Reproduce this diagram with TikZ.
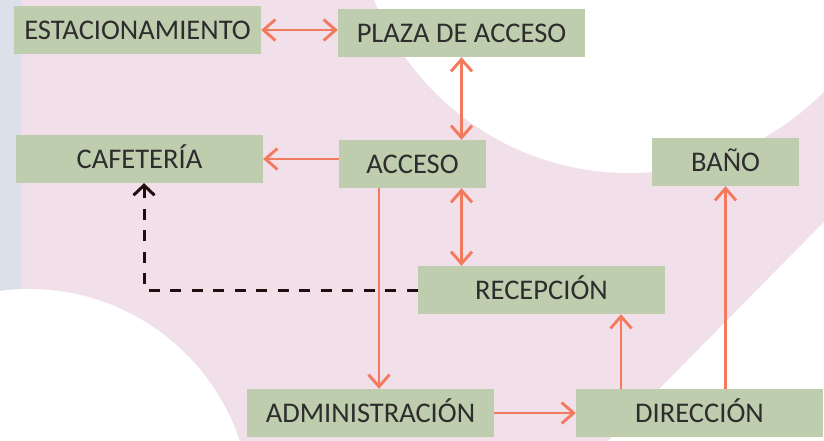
\documentclass[tikz,border=0pt]{standalone}
\usepackage{fontspec}
\setmainfont{Carlito}
\usetikzlibrary{arrows.meta}
\definecolor{bgpink}{RGB}{241,224,234}
\definecolor{bgblue}{RGB}{220,224,234}
\definecolor{boxgreen}{RGB}{190,205,174}
\definecolor{txtdark}{RGB}{45,45,45}
\definecolor{salmon}{RGB}{244,122,94}
\definecolor{dashdark}{RGB}{30,14,14}
\tikzset{
  box/.style={fill=boxgreen, draw=none, inner sep=0pt, minimum height=48pt,
    text height=18.4pt, text depth=0pt, text=txtdark,
    font=\fontsize{28.5pt}{30pt}\selectfont},
  widebox/.style={box, minimum width=247pt},
  smallbox/.style={box, minimum width=147pt},
  conn/.style={draw=salmon, line width=2.9pt, -{Straight Barb[length=12pt,width=21pt,line width=2.9pt]}},
  bconn/.style={draw=salmon, line width=2.9pt, {Straight Barb[length=12pt,width=21pt,line width=2.9pt]}-{Straight Barb[length=12pt,width=21pt,line width=2.9pt]}},
  dconn/.style={draw=dashdark, line width=3pt, dash pattern=on 11pt off 10.5pt, -{Straight Barb[length=10pt,width=21pt,line width=3pt]}}
}
\begin{document}
\begin{tikzpicture}[x=1pt,y=-1pt]
\useasboundingbox (0,0) rectangle (824,441);
% background
\fill[bgpink] (0,0) rectangle (824,441);
\fill[bgblue] (0,0) rectangle (22,300);
\begin{scope}
\clip (0,0) rectangle (824,441);
\fill[white] (629,-101) circle[radius=274];
\fill[white] (29,511) circle[radius=222];
\fill[white] (824,222) -- (824,441) -- (608,441) -- cycle;
\end{scope}
% nodes
\node[widebox] (est) at (137.5,30) {ESTACIONAMIENTO};
\node[widebox] (plaza) at (461.5,33) {PLAZA DE ACCESO};
\node[widebox] (caf) at (139.5,159) {CAFETERÍA};
\node[smallbox] (acc) at (412.5,164) {ACCESO};
\node[smallbox] (bano) at (725.5,162) {BAÑO};
\node[widebox] (rec) at (541.5,290) {RECEPCIÓN};
\node[widebox] (adm) at (370.5,413) {ADMINISTRACIÓN};
\node[widebox] (dir) at (699.5,413) {DIRECCIÓN};
% connectors
\draw[bconn] (est.east) -- (est.east -| plaza.west);
\draw[bconn] (plaza.south) -- (plaza.south |- acc.north);
\draw[conn] (acc.west |- caf.east) -- (caf.east);
\draw[bconn] (acc.south -| plaza.south) -- (rec.north -| plaza.south);
\draw[conn] ([xshift=8.5pt]adm.north |- acc.south) -- ([xshift=8.5pt]adm.north);
\draw[conn] (adm.east) -- (dir.west);
\draw[conn] ([xshift=-78.5pt]dir.north) -- ([xshift=-78.5pt]dir.north |- rec.south);
\draw[conn] (bano.south |- dir.north) -- (bano.south);
\draw[dconn] (rec.west) -| ([xshift=4.5pt]caf.south);
\end{tikzpicture}
\end{document}
